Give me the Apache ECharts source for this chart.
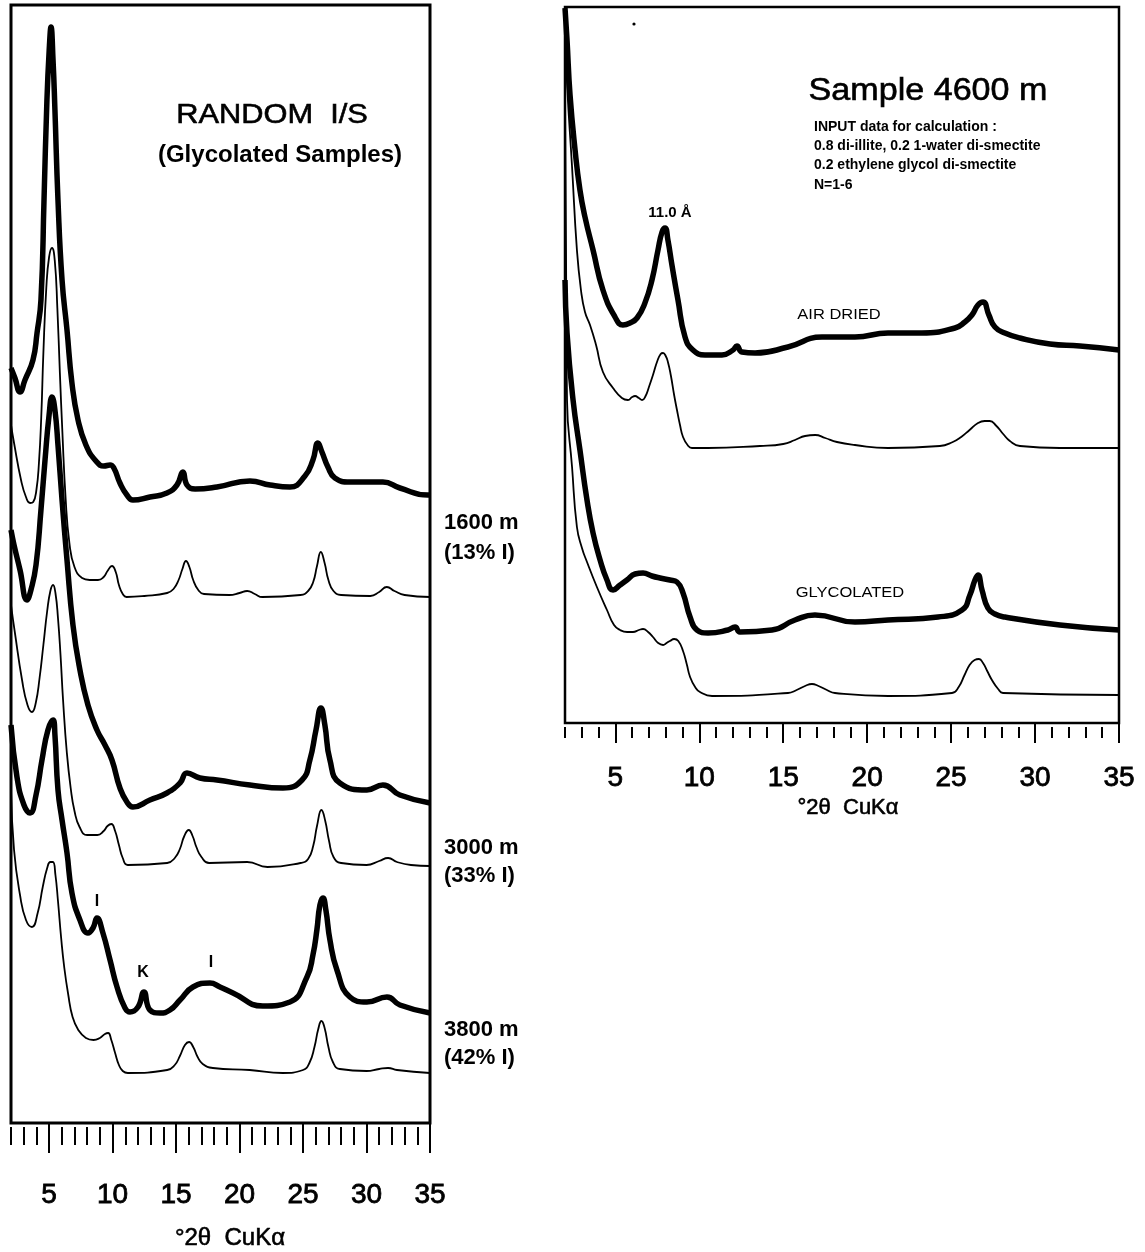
<!DOCTYPE html>
<html>
<head>
<meta charset="utf-8">
<script src="https://cdn.jsdelivr.net/npm/echarts@6/dist/echarts.min.js"></script>
<style>
  html, body { margin: 0; padding: 0; background: #fff; }
  #chart { width: 1145px; height: 1252px; }
</style>
</head>
<body>
<div id="chart"></div>
<script>
// tick values on both 2theta axes
const majorTicks = [5, 10, 15, 20, 25, 30, 35];

// left panel: random I/S, glycolated (2theta, stacked intensity)
const meas1600 = [[2.0,755],[2.31,745],[2.71,731],[3.1,743],[3.73,763],[4.05,790],[4.36,823],[4.6,923],[4.83,1023],[5.03,1078],[5.15,1096],[5.31,1063],[5.46,1013],[5.7,923],[6.02,843],[6.41,793],[6.8,740],[7.28,703],[7.9,678],[8.69,662],[9.32,657],[9.8,658],[10.1,655],[10.58,640],[11.13,628],[11.6,623],[12.94,626],[14.28,630],[15.07,638],[15.54,651],[15.86,638],[16.5,634],[18.22,636],[20.82,642],[22.4,638],[23.97,636],[25.15,647],[25.78,663],[26.17,680],[26.49,671],[26.96,656],[27.51,645],[28.69,641],[31.29,641],[32.63,635],[34.83,628],[35,628]];
const calc1600 = [[2.0,698],[2.24,680],[2.79,643],[3.18,626],[3.5,620],[3.75,621],[4.0,633],[4.2,660],[4.38,705],[4.55,770],[4.78,835],[5.0,866],[5.23,875],[5.45,862],[5.65,815],[5.85,750],[6.05,690],[6.3,625],[6.6,580],[7.0,556],[7.6,545],[8.2,543],[8.85,543],[9.3,546],[9.6,552],[9.95,557],[10.25,551],[10.5,538],[10.8,529],[11.1,526],[12.5,527],[14.3,530],[14.8,534],[15.2,543],[15.5,554],[15.78,562],[16.05,556],[16.35,543],[16.75,533],[17.2,529],[19.2,528],[20.0,530],[20.6,532],[21.2,529],[21.8,526],[24.8,528],[25.4,532],[25.8,541],[26.1,557],[26.4,571],[26.7,560],[27.0,543],[27.4,532],[28.0,528],[30.3,527],[31.0,531],[31.6,536],[32.2,532],[33.0,528],[35,526]];
const meas3000 = [[2.0,593],[2.24,578],[2.71,553],[3.26,523],[3.57,533],[3.97,558],[4.36,613],[4.68,663],[5.0,708],[5.23,726],[5.46,713],[5.7,678],[6.02,623],[6.41,563],[6.88,498],[7.43,453],[8.06,418],[8.77,393],[9.4,378],[9.95,363],[10.58,335],[11.13,321],[11.6,316],[12.94,323],[14.28,330],[15.31,340],[15.86,350],[16.88,345],[18.22,343],[20.82,338],[23.42,335],[24.92,343],[25.54,363],[26.02,393],[26.41,415],[26.72,398],[27.12,363],[27.9,340],[30.03,333],[31.29,338],[32.63,328],[35,320]];
const calc3000 = [[2.0,518],[2.31,490],[2.87,443],[3.3,418],[3.65,411],[3.95,420],[4.25,445],[4.55,478],[4.85,512],[5.1,532],[5.31,538],[5.5,530],[5.7,505],[5.9,468],[6.1,423],[6.4,370],[6.7,335],[7.0,312],[7.4,296],[8.0,288],[8.8,288],[9.3,292],[9.6,297],[9.9,299],[10.2,292],[10.5,278],[10.8,265],[11.2,258],[14.3,260],[14.9,265],[15.3,274],[15.65,287],[16.0,293],[16.3,287],[16.6,276],[17.0,266],[17.6,260],[20.6,261],[22.2,256],[24.8,260],[25.4,264],[25.8,277],[26.1,297],[26.45,313],[26.75,302],[27.05,282],[27.4,266],[28.0,260],[30.0,258],[31.0,262],[31.7,265],[32.4,261],[33.5,258],[35,257]];
const meas3800 = [[2.0,398],[2.47,346],[3.02,318],[3.5,310],[3.97,328],[4.44,363],[4.91,393],[5.31,403],[5.46,388],[5.7,333],[6.02,303],[6.41,270],[6.8,230],[7.43,203],[8.06,190],[8.46,195],[8.77,205],[9.24,190],[9.8,163],[10.35,136],[10.98,115],[11.37,111],[12.0,116],[12.47,131],[12.94,113],[13.73,110],[14.52,113],[15.31,123],[16.33,136],[17.67,140],[18.46,136],[19.48,130],[21.84,117],[23.97,121],[25.31,146],[25.78,168],[26.09,193],[26.33,218],[26.57,225],[26.8,213],[27.12,183],[27.67,153],[28.69,126],[30.03,121],[31.61,126],[32.63,118],[35,110]];
const calc3800 = [[2.0,333],[2.24,273],[2.71,228],[3.18,203],[3.65,196],[4.1,210],[4.5,236],[4.85,255],[5.1,261],[5.3,261],[5.5,248],[5.7,222],[5.95,185],[6.2,155],[6.5,129],[6.85,106],[7.3,93],[7.9,85],[8.5,83],[9.0,85],[9.4,89],[9.65,90],[9.9,83],[10.2,70],[10.5,58],[10.8,52],[11.2,50],[14.3,53],[14.9,58],[15.3,67],[15.7,78],[16.02,81],[16.35,76],[16.7,66],[17.1,59],[17.9,55],[20.8,53],[23.4,50],[25.0,53],[25.5,60],[25.9,76],[26.2,94],[26.45,102],[26.7,95],[27.0,76],[27.35,61],[27.9,54],[30.0,52],[31.0,54],[31.7,55],[32.4,53],[35,50]];

// right panel: sample 4600 m
const airMeas = [[2.0,715],[2.12,683],[2.3,628],[2.6,573],[2.89,533],[3.19,506],[3.67,473],[4.26,433],[4.98,406],[5.45,398],[5.87,400],[6.29,405],[6.76,420],[7.18,443],[7.54,473],[7.78,491],[7.96,495],[8.13,483],[8.37,458],[8.73,423],[9.15,386],[9.62,373],[10.34,368],[11.35,368],[12.01,373],[12.24,377],[12.54,371],[13.32,370],[15.28,376],[17.31,386],[19.27,386],[21.24,390],[23.26,390],[25.23,395],[25.82,401],[26.24,408],[26.6,418],[26.9,421],[27.25,408],[27.61,396],[28.2,390],[29.1,385],[30.89,379],[32.67,377],[35,373]];
const airCalc = [[2.0,698],[2.12,640],[2.42,556],[2.71,473],[2.95,433],[3.19,411],[3.49,398],[3.85,378],[4.26,351],[4.86,335],[5.39,325],[5.75,323],[6.0,326],[6.17,327],[6.4,325],[6.59,323],[6.8,327],[7.0,336],[7.24,348],[7.5,362],[7.7,369],[7.84,370],[8.0,367],[8.13,361],[8.3,348],[8.5,328],[8.67,313],[8.85,298],[9.03,286],[9.3,278],[9.56,275],[10.52,275],[13.61,277],[15.0,279],[15.7,283],[16.3,287],[16.9,288],[17.5,285],[18.2,281],[19.27,278],[21.24,275],[24.33,277],[25.1,281],[25.6,286],[26.1,293],[26.6,300],[27.0,302],[27.3,302],[27.7,297],[28.1,289],[28.5,282],[29.1,277],[31.48,275],[35,275]];
const glyMeas = [[2.0,443],[2.12,390],[2.48,323],[2.89,273],[3.31,223],[3.67,190],[4.09,163],[4.5,143],[4.86,133],[5.28,138],[5.69,143],[6.17,149],[6.65,150],[7.18,147],[7.66,145],[8.25,143],[8.67,141],[9.03,130],[9.45,106],[9.86,93],[10.52,90],[11.71,93],[12.13,96],[12.42,91],[14.33,93],[15.7,103],[16.89,108],[19.27,101],[21.24,103],[24.22,106],[25.65,113],[26.12,128],[26.42,143],[26.6,148],[26.84,133],[27.19,115],[27.61,109],[28.2,106],[31.48,98],[35,93]];
const glyCalc = [[2.0,628],[2.06,473],[2.12,323],[2.42,256],[2.71,196],[3.01,175],[3.31,161],[3.9,136],[4.5,113],[4.92,98],[5.28,93],[5.7,91],[6.05,91],[6.4,93],[6.65,94],[6.95,91],[7.24,86],[7.55,80],[7.84,78],[8.05,80],[8.25,82],[8.5,84],[8.75,82],[9.03,72],[9.25,59],[9.45,46],[9.75,36],[10.04,31],[10.76,27],[15.28,30],[15.8,33],[16.3,37],[16.71,39],[17.1,37],[17.6,33],[18.08,30],[21.24,27],[25.05,30],[25.45,36],[25.8,48],[26.1,58],[26.4,63],[26.66,64],[26.9,60],[27.15,52],[27.43,43],[27.8,34],[28.09,30],[35,28]];

const depthLabels = [['1600 m', '(13% I)'], ['3000 m', '(33% I)'], ['3800 m', '(42% I)']];
const inputLines = ['INPUT data for calculation :', '0.8 di-illite, 0.2 1-water di-smectite', '0.2 ethylene glycol di-smectite', 'N=1-6'];

const FONT = '"Liberation Sans", Arial, Helvetica, sans-serif';
const chart = echarts.init(document.getElementById('chart'));

function xAxes(grid, majorLen, minorLen, margin) {
  return [
    { gridIndex: grid, type: 'value', min: 2, max: 35, position: 'bottom', offset: 4,
      axisLine: { show: false }, splitLine: { show: false },
      axisTick: { show: true, customValues: majorTicks, length: majorLen, lineStyle: { color: '#000', width: 2 } },
      axisLabel: { customValues: majorTicks, color: '#000', fontSize: 28, fontFamily: FONT, margin: margin,
        textBorderColor: '#000', textBorderWidth: 0.8 } },
    { gridIndex: grid, type: 'value', min: 2, max: 35, interval: 1, position: 'bottom', offset: 4,
      axisLine: { show: false }, splitLine: { show: false }, axisLabel: { show: false },
      axisTick: { show: true, length: minorLen, lineStyle: { color: '#000', width: 2 } } }
  ];
}

function trace(data, xi, yi, thick) {
  return { type: 'line', data: data, xAxisIndex: xi, yAxisIndex: yi, showSymbol: false,
    smooth: 0.5, silent: true,
    lineStyle: { color: '#000', width: thick ? 5.5 : 1.8, join: 'round' } };
}

function txt(text, x, y, size, weight, align, sx, stroke) {
  return { type: 'text', x: x, y: y, scaleX: sx || 1,
    style: { text: text, x: 0, y: 0, fill: '#000', fontSize: size, fontWeight: weight || 'normal',
      fontFamily: FONT, textAlign: align || 'center', textVerticalAlign: 'middle',
      stroke: stroke ? '#000' : null, lineWidth: stroke || 0 } };
}

const graphics = [
  txt('RANDOM  I/S', 272, 115, 28, 'normal', 'center', 1.1, 0.6),
  txt('(Glycolated Samples)', 280, 155, 24, 'bold'),
  txt('\u00b02\u03b8  CuK\u03b1', 230, 1238, 24, 'normal', 'center', 1, 0.6),
  txt('I', 97, 902, 16, 'bold'),
  txt('K', 143, 973, 16, 'bold'),
  txt('I', 211, 963, 16, 'bold'),
  txt('Sample 4600 m', 928, 91, 31, 'normal', 'center', 1.1, 0.6),
  txt('11.0 \u00c5', 670, 213, 15, 'bold'),
  txt('AIR DRIED', 839, 315, 15, 'normal', 'center', 1.1),
  txt('GLYCOLATED', 850, 593, 15, 'normal', 'center', 1.1),
  txt('\u00b02\u03b8  CuK\u03b1', 848, 808, 22, 'normal', 'center', 1, 0.6),
  { type: 'circle', shape: { cx: 634, cy: 24, r: 1.6 }, style: { fill: '#000' } }
];
const depthY = [[523, 553], [848, 876], [1030, 1058]];
depthLabels.forEach((l, i) => {
  graphics.push(txt(l[0], 444, depthY[i][0], 22, 'bold', 'left'));
  graphics.push(txt(l[1], 444, depthY[i][1], 22, 'bold', 'left'));
});
inputLines.forEach((t, i) => graphics.push(txt(t, 814, 127 + i * 19.3, 14, 'bold', 'left')));

chart.setOption({
  animation: false,
  backgroundColor: '#fff',
  grid: [
    { left: 11, top: 5, width: 419, height: 1118, show: true, borderColor: '#000', borderWidth: 3, backgroundColor: 'transparent' },
    { left: 565, top: 7, width: 554, height: 716, show: true, borderColor: '#000', borderWidth: 2.5, backgroundColor: 'transparent' }
  ],
  xAxis: [].concat(xAxes(0, 30, 18, 54), xAxes(1, 20, 11, 37)),
  yAxis: [
    { gridIndex: 0, type: 'value', min: 0, max: 1118, show: false },
    { gridIndex: 1, type: 'value', min: 0, max: 716, show: false }
  ],
  series: [
    trace(meas1600, 0, 0, true), trace(calc1600, 0, 0, false),
    trace(meas3000, 0, 0, true), trace(calc3000, 0, 0, false),
    trace(meas3800, 0, 0, true), trace(calc3800, 0, 0, false),
    trace(airMeas, 2, 1, true), trace(airCalc, 2, 1, false),
    trace(glyMeas, 2, 1, true), trace(glyCalc, 2, 1, false)
  ],
  graphic: graphics
});
</script>
</body>
</html>
